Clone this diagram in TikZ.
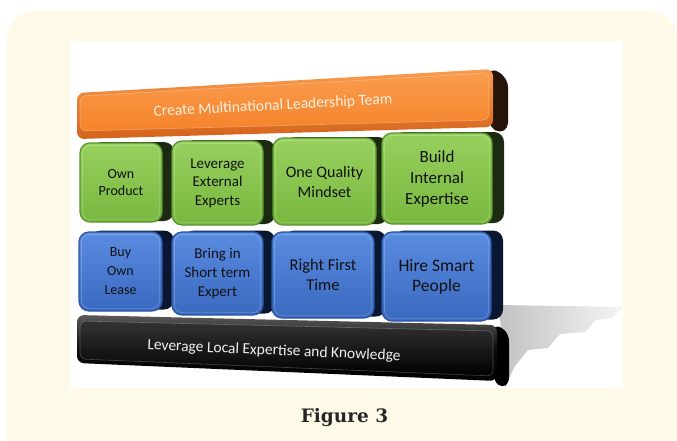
\documentclass[tikz,border=0pt]{standalone}
\usepackage{fontspec}
\setmainfont{Carlito}
\newfontfamily\figfont{DejaVu Serif}
\usetikzlibrary{shadows}
\definecolor{cream}{HTML}{FFFAE8}
\definecolor{gtop}{HTML}{98D05E}
\definecolor{gbot}{HTML}{78B83F}
\definecolor{grim}{HTML}{5A9630}
\definecolor{gside}{HTML}{1C2A12}
\definecolor{btop}{HTML}{5A8CE0}
\definecolor{bbot}{HTML}{3A69C0}
\definecolor{brim}{HTML}{2C56A4}
\definecolor{bside}{HTML}{0B1730}
\definecolor{otop}{HTML}{FA9C4E}
\definecolor{obot}{HTML}{F5832A}
\definecolor{orim}{HTML}{D4621A}
\definecolor{oside}{HTML}{24140A}
\definecolor{txt}{HTML}{111111}
\definecolor{figtxt}{HTML}{262626}
\tikzset{
  facebox/.style={rounded corners=10pt, line width=1.2pt, align=center, text=txt, inner sep=0pt},
  gbox/.style={facebox, draw=grim, top color=gtop, bottom color=gbot,
    general shadow={fill=gside, shadow xshift=12pt, shadow yshift=1pt}},
  bbox/.style={facebox, draw=brim, top color=btop, bottom color=bbot,
    general shadow={fill=bside, shadow xshift=12pt, shadow yshift=1.5pt}},
  bevel/.style={rounded corners=8pt, draw=white, line width=0.7pt, opacity=0.22},
  bartext/.style={font=\fontsize{15.5}{18}\selectfont, inner sep=0pt},
  fs/.style n args={2}{font=\fontsize{#1}{#2}\selectfont}
}
\begin{document}
\begin{tikzpicture}[x=1pt,y=-1pt]
\useasboundingbox (0,0) rectangle (677,440);
\clip (0,0) rectangle (677,440);
% background
\fill[white] (0,0) rectangle (677,440);
\fill[cream, rounded corners=27pt] (7,11) rectangle (677,480);
\fill[white] (70,41) rectangle (623,388);
% floor shadow
\shade[left color=black!24, right color=black!4]
  (498,305) -- (623,307) -- (612,318) -- (596,320) -- (585,332) -- (560,334)
  -- (548,348) -- (528,350) -- (515,366) -- (508,380) -- cycle;
% black base bar
\fill[black, rounded corners=5pt] (494,325) -- (503,328) -- (509,336) -- (509,383) -- (502,388) -- (494,381) -- cycle;
\shade[top color=black!65, bottom color=black, middle color=black!95, rounded corners=7pt]
  (77,315) -- (497,325) -- (497,381) -- (77,363) -- cycle;
\shade[top color=black!80, bottom color=black, rounded corners=6pt, draw=white, draw opacity=0.25, line width=0.6pt]
  (80,321) -- (493,331) -- (493,376) -- (80,359) -- cycle;
\node[bartext, text=white!94!black, rotate=-2.5] (btxt) at (274,351) {Leverage Local Expertise and Knowledge};
% blue row
\node[bbox, minimum width=83pt, minimum height=79pt, fs={14}{19}] (b1) at (120.5,271.5) {Buy\\Own\\Lease};
\node[bbox, minimum width=91pt, minimum height=83pt, fs={15}{19}] (b2) at (217.5,273.5) {Bring in\\Short term\\Expert};
\node[bbox, minimum width=102pt, minimum height=86pt, fs={16.5}{20}] (b3) at (323,275) {Right First\\Time};
\node[bbox, minimum width=109pt, minimum height=89pt, fs={17.5}{20}] (b4) at (436.5,276.5) {Hire Smart\\People};
% green row
\node[gbox, minimum width=82pt, minimum height=79pt, fs={14}{17.5}] (g1) at (121,182.5) {Own\\Product};
\node[gbox, minimum width=91pt, minimum height=84pt, fs={15}{18.5}] (g2) at (217.5,183) {Leverage\\External\\Experts};
\node[gbox, minimum width=103pt, minimum height=87pt, fs={16}{20}] (g3) at (324.5,181.5) {One Quality\\Mindset};
\node[gbox, minimum width=110pt, minimum height=91pt, fs={17}{21}] (g4) at (437,178.5) {Build\\Internal\\Expertise};
\foreach \n in {g1,g2,g3,g4,b1,b2,b3,b4}
  \draw[bevel] ([shift={(3pt,-3pt)}]\n.north west) rectangle ([shift={(-3pt,3pt)}]\n.south east);
% orange top bar
\fill[oside, rounded corners=5pt] (490,69) -- (500,72) -- (508,82) -- (508,128) -- (500,133) -- (490,127) -- cycle;
\shade[top color=otop, bottom color=orim, rounded corners=7pt]
  (77,93) -- (493,69) -- (493,127) -- (77,139) -- cycle;
\shade[top color=otop, bottom color=obot, rounded corners=6pt, draw=white, draw opacity=0.3, line width=0.6pt]
  (80,96) -- (489,73) -- (489,120) -- (80,131) -- cycle;
\node[bartext, text=white!88!orange, rotate=3] (otxt) at (273,106) {Create Multinational Leadership Team};
% caption
\node[font=\figfont\bfseries\fontsize{18.5}{22}\selectfont, text=figtxt, anchor=base, inner sep=0pt] (fig) at (344.5,422) {Figure 3};
\end{tikzpicture}
\end{document}
